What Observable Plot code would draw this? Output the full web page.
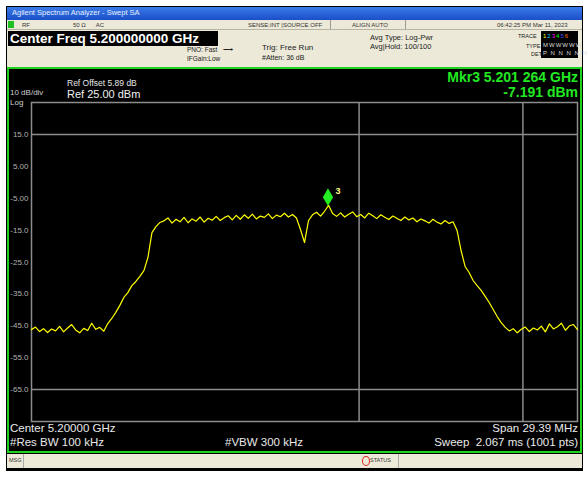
<!DOCTYPE html>
<html>
<head>
<meta charset="utf-8">
<script src="https://cdn.jsdelivr.net/npm/d3@7"></script>
<script src="https://cdn.jsdelivr.net/npm/@observablehq/plot@0.6"></script>
<style>
  html, body { margin: 0; padding: 0; background: #fff; }
  #page { position: relative; width: 588px; height: 477px; overflow: hidden; font-family: "Liberation Sans", Arial, sans-serif; }
  .abs { position: absolute; white-space: nowrap; line-height: 1; }
</style>
</head>
<body>
<div id="page">
  <!-- outer window frame -->
  <div class="abs" style="left:6px;top:6px;width:577px;height:465px;background:#000;"></div>
  <!-- title bar -->
  <div class="abs" style="left:7px;top:7px;width:575px;height:13px;background:linear-gradient(#3a7ae8,#1a4fc8);"></div>
  <div class="abs" style="left:12px;top:9px;font-size:7.5px;color:#e8f0ff;">Agilent Spectrum Analyzer - Swept SA</div>
  <!-- header beige panel -->
  <div class="abs" style="left:7px;top:20px;width:575px;height:47px;background:#ece9d8;"></div>
  <div class="abs" style="left:8px;top:21px;width:6px;height:7px;background:#20c020;"></div>
  <div class="abs" style="left:7px;top:29px;width:575px;height:1px;background:#b8b4a4;"></div>
  <div class="abs" style="left:22px;top:22px;font-size:6px;color:#333;">RF</div>
  <div class="abs" style="left:73px;top:22px;font-size:6px;color:#333;">50 Ω&nbsp;&nbsp;&nbsp;&nbsp;&nbsp;&nbsp;AC</div>
  <div class="abs" style="left:248px;top:22px;font-size:6px;color:#333;">SENSE:INT&nbsp;|SOURCE OFF</div>
  <div class="abs" style="left:330px;top:20px;width:1px;height:9px;background:#999;"></div>
  <div class="abs" style="left:352px;top:22px;font-size:6px;color:#333;">ALIGN AUTO</div>
  <div class="abs" style="left:405px;top:20px;width:1px;height:9px;background:#999;"></div>
  <div class="abs" style="left:497px;top:22px;font-size:6px;color:#333;">06:42:25 PM Mar 11, 2023</div>
  <!-- center freq box -->
  <div class="abs" style="left:8px;top:31px;width:210px;height:15px;background:#000;"></div>
  <div class="abs" style="left:10px;top:32px;font-size:13.5px;font-weight:bold;color:#fff;">Center Freq 5.200000000 GHz</div>
  <div class="abs" style="left:187px;top:47px;font-size:6.5px;color:#222;">PNO: Fast&nbsp;&nbsp;&nbsp;⟶</div>
  <div class="abs" style="left:187px;top:56px;font-size:6.5px;color:#222;">IFGain:Low</div>
  <div class="abs" style="left:262px;top:44px;font-size:8px;color:#222;">Trig: Free Run</div>
  <div class="abs" style="left:262px;top:54px;font-size:7px;color:#222;">#Atten: 36 dB</div>
  <div class="abs" style="left:370px;top:34px;font-size:7.5px;color:#222;">Avg Type: Log-Pwr</div>
  <div class="abs" style="left:370px;top:43px;font-size:7.5px;color:#222;">Avg|Hold: 100/100</div>
  <div class="abs" style="left:518px;top:34px;font-size:5.5px;color:#222;">TRACE</div>
  <div class="abs" style="left:526px;top:44px;font-size:5.5px;color:#222;">TYPE</div>
  <div class="abs" style="left:531px;top:52px;font-size:5.5px;color:#222;">DET</div>
  <div class="abs" style="left:541px;top:31px;width:37px;height:27px;background:#000;"></div>
  <div class="abs" style="left:543px;top:33px;font-size:6px;color:#ff0;letter-spacing:1px;">1<span style="color:#0cf">2</span><span style="color:#f0f">3</span><span style="color:#0f0">4</span><span style="color:#44f">5</span><span style="color:#f60">6</span></div>
  <div class="abs" style="left:543px;top:42px;font-size:6px;color:#ddd;letter-spacing:1px;">MWWWWW</div>
  <div class="abs" style="left:543px;top:50px;font-size:6px;color:#ddd;letter-spacing:1px;">P N N N N N</div>
  <!-- display area with green border -->
  <div class="abs" style="left:7px;top:67px;width:571px;height:382px;border:2px solid #1ed21e;background:#000;"></div>
  <div id="chart" class="abs" style="left:9px;top:69px;"></div>
  <!-- display texts -->
  <div class="abs" style="left:67px;top:79px;font-size:8.5px;color:#e6e6e6;">Ref Offset 5.89 dB</div>
  <div class="abs" style="left:67px;top:89px;font-size:11px;color:#f0f0f0;">Ref 25.00 dBm</div>
  <div class="abs" style="left:10px;top:89px;font-size:8px;color:#cfcfcf;">10 dB/div</div>
  <div class="abs" style="left:10px;top:99px;font-size:8px;color:#cfcfcf;">Log</div>
  <div class="abs" style="right:10px;top:70px;font-size:14px;font-weight:bold;color:#22e822;text-align:right;">Mkr3 5.201 264 GHz</div>
  <div class="abs" style="right:10px;top:85px;font-size:14px;font-weight:bold;color:#22e822;text-align:right;">-7.191 dBm</div>
  <div class="abs" style="left:10px;top:423px;font-size:11.5px;color:#eaeaea;">Center 5.20000 GHz</div>
  <div class="abs" style="right:10px;top:423px;font-size:11.5px;color:#eaeaea;">Span 29.39 MHz</div>
  <div class="abs" style="left:10px;top:437px;font-size:11.5px;color:#eaeaea;">#Res BW 100 kHz</div>
  <div class="abs" style="left:225px;top:437px;font-size:11.5px;color:#eaeaea;">#VBW 300 kHz</div>
  <div class="abs" style="right:10px;top:437px;font-size:11.5px;color:#eaeaea;">Sweep&nbsp;&nbsp;2.067 ms (1001 pts)</div>
  <!-- status bar -->
  <div class="abs" style="left:7px;top:454px;width:575px;height:14px;background:#ece9d8;"></div>
  <div class="abs" style="left:9px;top:458px;font-size:5.5px;color:#333;">MSG</div>
  <div class="abs" style="left:23px;top:454px;width:1px;height:14px;background:#aaa;"></div>
  <div class="abs" style="left:362px;top:456px;width:6px;height:8px;border-radius:50%;border:1.5px solid #e02020;"></div>
  <div class="abs" style="left:370px;top:458px;font-size:5.5px;color:#333;">STATUS</div>
  <div class="abs" style="left:398px;top:454px;width:1px;height:14px;background:#aaa;"></div>
</div>
<script>
// Instrument settings (MHz / dBm)
const centerMHz = 5200;
const spanMHz = 29.39;
const refLevel = 25;
const bottomLevel = -75;

// Y tick labels (dBm) shown on the graticule
const yTickValues = [15, 5, -5, -15, -25, -35, -45, -55, -65];
const yTickLabels = ["15.0", "5.00", "-5.00", "-15.0", "-25.0", "-35.0", "-45.0", "-55.0", "-65.0"];

// Graticule lines that are visible in the picture
const hGridLevels = [15, -65];
const vGridFreqs = [5202.939, 5211.756];

// Trace levels (dBm), read at evenly spaced sweep points across the span
const traceLevels = [
  -46.2, -45.4, -46.8, -45.9, -47.1, -46.0, -46.6, -45.2, -46.9, -45.7,
  -44.6, -46.3, -47.2, -45.8, -46.5, -44.2, -46.1, -45.5, -46.7,
  -44.3, -42.7, -40.8, -38.6, -36.1, -34.6, -32.4, -31.1, -29.5, -27.7,
  -23.6, -15.8, -13.9, -12.6,
  -12.1, -11.2, -12.8, -11.6, -12.4, -11.0, -12.7, -11.5, -12.2, -10.9,
  -12.5, -11.3, -11.9, -10.7, -12.0, -11.1, -10.5, -11.8, -10.4, -11.6,
  -10.2, -11.3, -10.0, -11.5, -10.6, -11.0, -9.9, -11.4, -10.3, -10.8,
  -9.7, -10.9, -10.1, -11.2, -14.8, -18.9, -12.0, -10.2, -9.4, -10.6,
  -9.1, -7.2, -9.8, -10.7, -9.6, -10.9, -10.0, -9.3, -10.8, -10.1,
  -11.2, -9.7, -10.5, -11.4, -10.2, -11.0, -11.7, -10.6, -11.3, -12.0,
  -10.9, -11.8, -11.2, -12.4, -11.5, -12.1, -12.8, -11.6, -12.5, -13.1,
  -12.0, -12.9, -12.4,
  -15.1, -21.4, -26.4, -28.3, -30.8, -32.4, -33.9, -35.8, -37.7, -39.9,
  -42.1, -44.0, -45.5,
  -46.6, -45.9, -47.2, -46.1, -45.4, -46.8, -45.7, -46.3, -45.1, -46.9,
  -44.4, -46.0, -45.3, -44.2, -46.4, -45.0, -44.6, -46.2
];

// Marker 3
const markerFreqs = [5201.264];
const markerLevels = [-7.191];
const markerNames = ["3"];

const fStart = centerMHz - spanMHz / 2;
const fStop = centerMHz + spanMHz / 2;
const nPts = traceLevels.length;
const trace = traceLevels.map((v, i) => ({f: fStart + i * spanMHz / (nPts - 1), dbm: v}));
const markers = markerFreqs.map((f, i) => ({f, dbm: markerLevels[i], name: markerNames[i]}));
const yTicks = yTickValues.map((v, i) => ({v, label: yTickLabels[i]}));

const chart = Plot.plot({
  width: 571,
  height: 382,
  marginLeft: 22,
  marginRight: 3,
  marginTop: 33,
  marginBottom: 30,
  style: {background: "#000", color: "#aaa", fontFamily: "'Liberation Sans', Arial, sans-serif", fontSize: "8px"},
  x: {domain: [fStart, fStop], axis: null},
  y: {domain: [bottomLevel, refLevel], axis: null},
  marks: [
    Plot.ruleY(hGridLevels, {stroke: "#8c8c8c", strokeWidth: 1.5}),
    Plot.ruleX(vGridFreqs, {stroke: "#8c8c8c", strokeWidth: 1.5}),
    Plot.frame({stroke: "#8c8c8c", strokeWidth: 1.5}),
    Plot.text(yTicks, {x: () => fStart, y: "v", text: "label", textAnchor: "end", dx: -3, fill: "#b0b0b0", fontSize: 8}),
    Plot.line(trace, {x: "f", y: "dbm", stroke: "#ffff00", strokeWidth: 1.2}),
    Plot.dot(markers, {x: "f", y: "dbm", symbol: "diamond", fill: "#22ee22", stroke: "#22ee22", r: 4.5, dy: -8}),
    Plot.text(markers, {x: "f", y: "dbm", text: "name", dx: 10, dy: -14, fill: "#ffff88", fontSize: 9, fontWeight: "bold"})
  ]
});
document.getElementById("chart").appendChild(chart);
</script>
</body>
</html>
